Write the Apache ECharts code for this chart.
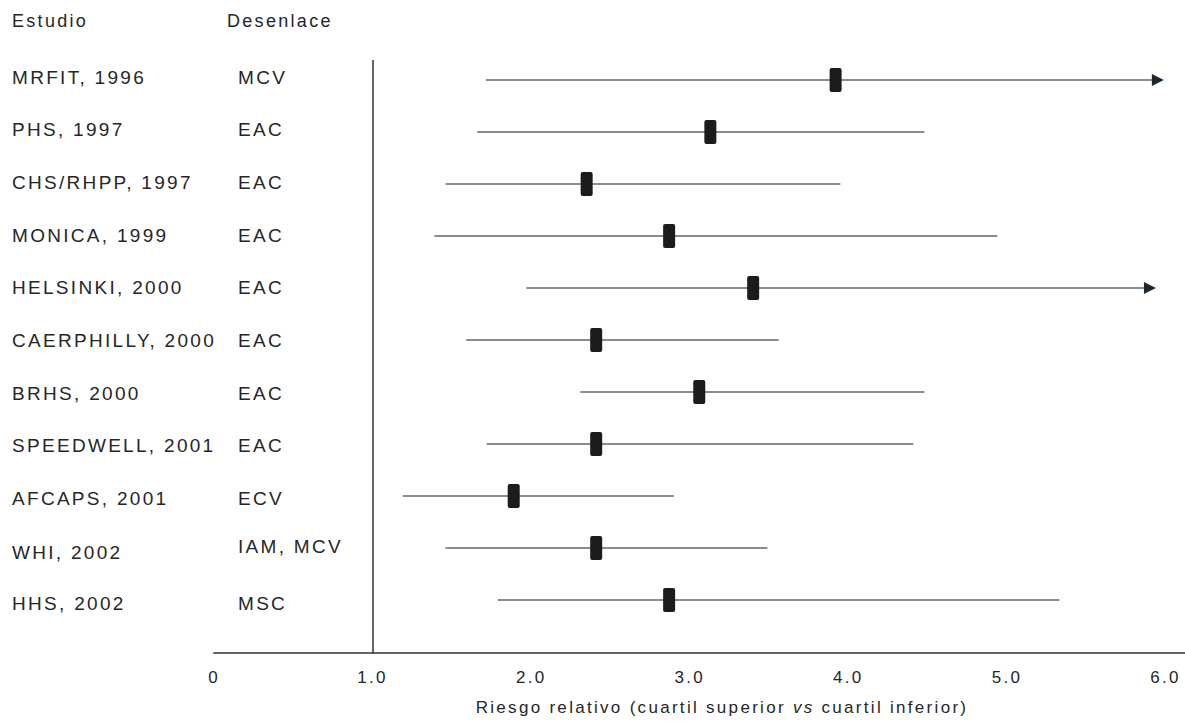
<!DOCTYPE html>
<html>
<head>
<meta charset="utf-8">
<script src="https://cdn.jsdelivr.net/npm/echarts@6/dist/echarts.min.js"></script>
<style>
  html, body { margin: 0; padding: 0; background: #fff; }
  #chart { width: 1185px; height: 721px; }
  #chart text { letter-spacing: 2.3px; }
</style>
</head>
<body>
<div id="chart"></div>
<script>
// Forest plot: relative risk (top vs bottom quartile) per study, with 95% CI
const studies = ['MRFIT, 1996', 'PHS, 1997', 'CHS/RHPP, 1997', 'MONICA, 1999', 'HELSINKI, 2000',
  'CAERPHILLY, 2000', 'BRHS, 2000', 'SPEEDWELL, 2001', 'AFCAPS, 2001', 'WHI, 2002', 'HHS, 2002'];
const outcomes = ['MCV', 'EAC', 'EAC', 'EAC', 'EAC', 'EAC', 'EAC', 'EAC', 'ECV', 'IAM, MCV', 'MSC'];
const relativeRisk = [3.92, 3.13, 2.35, 2.87, 3.40, 2.41, 3.06, 2.41, 1.89, 2.41, 2.87];
const lowerCI = [1.715, 1.66, 1.46, 1.39, 1.97, 1.59, 2.31, 1.72, 1.19, 1.46, 1.79];
const upperCI = [5.99, 4.48, 3.95, 4.94, 5.94, 3.56, 4.48, 4.41, 2.90, 3.49, 5.33];
// upper limit runs off the scale -> drawn with an arrow head
const offScale = [true, false, false, false, true, false, false, false, false, false, false];
const xTicks = [0, 1, 2, 3, 4, 5, 6];
const headers = ['Estudio', 'Desenlace'];
const axisTitle = ['Riesgo relativo (cuartil superior ', 'vs', ' cuartil inferior)'];

const FONT = '"Liberation Sans", Arial, sans-serif';
const FS = 17;       // ticks and axis title
const FS_ROW = 19;   // study / outcome columns
const FS_HEAD = 18;  // column headers
const LS = 2.3;
const TXT = '#262626';

const chart = echarts.init(document.getElementById('chart'), null, { renderer: 'svg' });

// width of a string including the css letter spacing
const mctx = document.createElement('canvas').getContext('2d');
function textWidth(s, italic) {
  mctx.font = (italic ? 'italic ' : '') + FS + 'px ' + FONT;
  return mctx.measureText(s).width + s.length * LS;
}
const titleWidths = axisTitle.map((s, k) => textWidth(s, k === 1));
const titleTotal = titleWidths.reduce((a, b) => a + b, 0);
let tx = 722 - titleTotal / 2;
const titleParts = axisTitle.map((s, k) => {
  const el = {
    type: 'text', left: tx, top: 699,
    style: { text: s, fill: TXT, fontSize: FS, fontFamily: FONT, fontStyle: k === 1 ? 'italic' : 'normal' }
  };
  tx += titleWidths[k];
  return el;
});

const rows = studies.map((s, i) => i);

chart.setOption({
  animation: false,
  backgroundColor: '#fff',
  grid: { left: 214, right: 0.5, top: 60, bottom: 68, containLabel: false },
  xAxis: {
    type: 'value', min: xTicks[0], max: 6.12, interval: 1,
    axisLine: { show: true, onZero: false, lineStyle: { color: '#666', width: 2 } },
    axisTick: { show: false },
    splitLine: { show: false },
    axisLabel: {
      margin: 16, color: TXT, fontSize: FS, fontFamily: FONT, showMaxLabel: false,
      formatter: v => (xTicks.indexOf(v) < 0 ? '' : (v === 0 ? '0' : v.toFixed(1)))
    }
  },
  yAxis: { type: 'value', inverse: true, min: -0.385, max: 11.02, show: false },
  graphic: [
    { type: 'text', left: 12, top: 12, style: { text: headers[0], fill: TXT, fontSize: FS_HEAD, fontFamily: FONT } },
    { type: 'text', left: 227, top: 12, style: { text: headers[1], fill: TXT, fontSize: FS_HEAD, fontFamily: FONT } },
    ...titleParts
  ],
  series: [
    {
      // confidence interval whiskers
      type: 'custom',
      data: rows.map(i => [i, lowerCI[i], upperCI[i], offScale[i] ? 1 : 0]),
      renderItem: (params, api) => {
        const i = api.value(0);
        const p0 = api.coord([api.value(1), i]);
        const p1 = api.coord([api.value(2), i]);
        const arrow = api.value(3) === 1;
        const end = arrow ? p1[0] - 10 : p1[0];
        const children = [{
          type: 'line',
          shape: { x1: p0[0], y1: p0[1], x2: end, y2: p1[1] },
          style: { stroke: '#8c8c8c', lineWidth: 2 }
        }];
        if (arrow) {
          children.push({
            type: 'polygon',
            shape: { points: [[p1[0], p1[1]], [p1[0] - 12, p1[1] - 6], [p1[0] - 12, p1[1] + 6]] },
            style: { fill: '#1d2730' }
          });
        }
        return { type: 'group', children };
      },
      z: 2
    },
    {
      // point estimates
      type: 'custom',
      data: rows.map(i => [relativeRisk[i], i]),
      renderItem: (params, api) => {
        const p = api.coord([api.value(0), api.value(1)]);
        return {
          type: 'rect',
          shape: { x: p[0] - 6, y: p[1] - 12, width: 12, height: 24, r: 2 },
          style: { fill: '#1c1c1c' }
        };
      },
      z: 3,
      markLine: {
        silent: true,
        symbol: ['none', 'none'],
        label: { show: false },
        lineStyle: { color: '#333', width: 1.5, type: 'solid' },
        data: [{ xAxis: 1 }]
      }
    },
    {
      // study and outcome columns
      type: 'custom',
      data: rows.map(i => [i]),
      renderItem: (params, api) => {
        const i = api.value(0);
        const y = api.coord([0, i])[1] - 3 + 0.7 * i;
        const nameShift = studies[i].startsWith('WHI') ? 1 : 0;
        const outShift = outcomes[i].indexOf(',') > 0 ? -5 : 0;
        return {
          type: 'group',
          children: [
            { type: 'text', style: { text: studies[i], x: 12, y: y + nameShift, fill: TXT, fontSize: FS_ROW, fontFamily: FONT, verticalAlign: 'middle' } },
            { type: 'text', style: { text: outcomes[i], x: 238, y: y + outShift, fill: TXT, fontSize: FS_ROW, fontFamily: FONT, verticalAlign: 'middle' } }
          ]
        };
      },
      z: 4
    }
  ]
});
</script>
</body>
</html>
